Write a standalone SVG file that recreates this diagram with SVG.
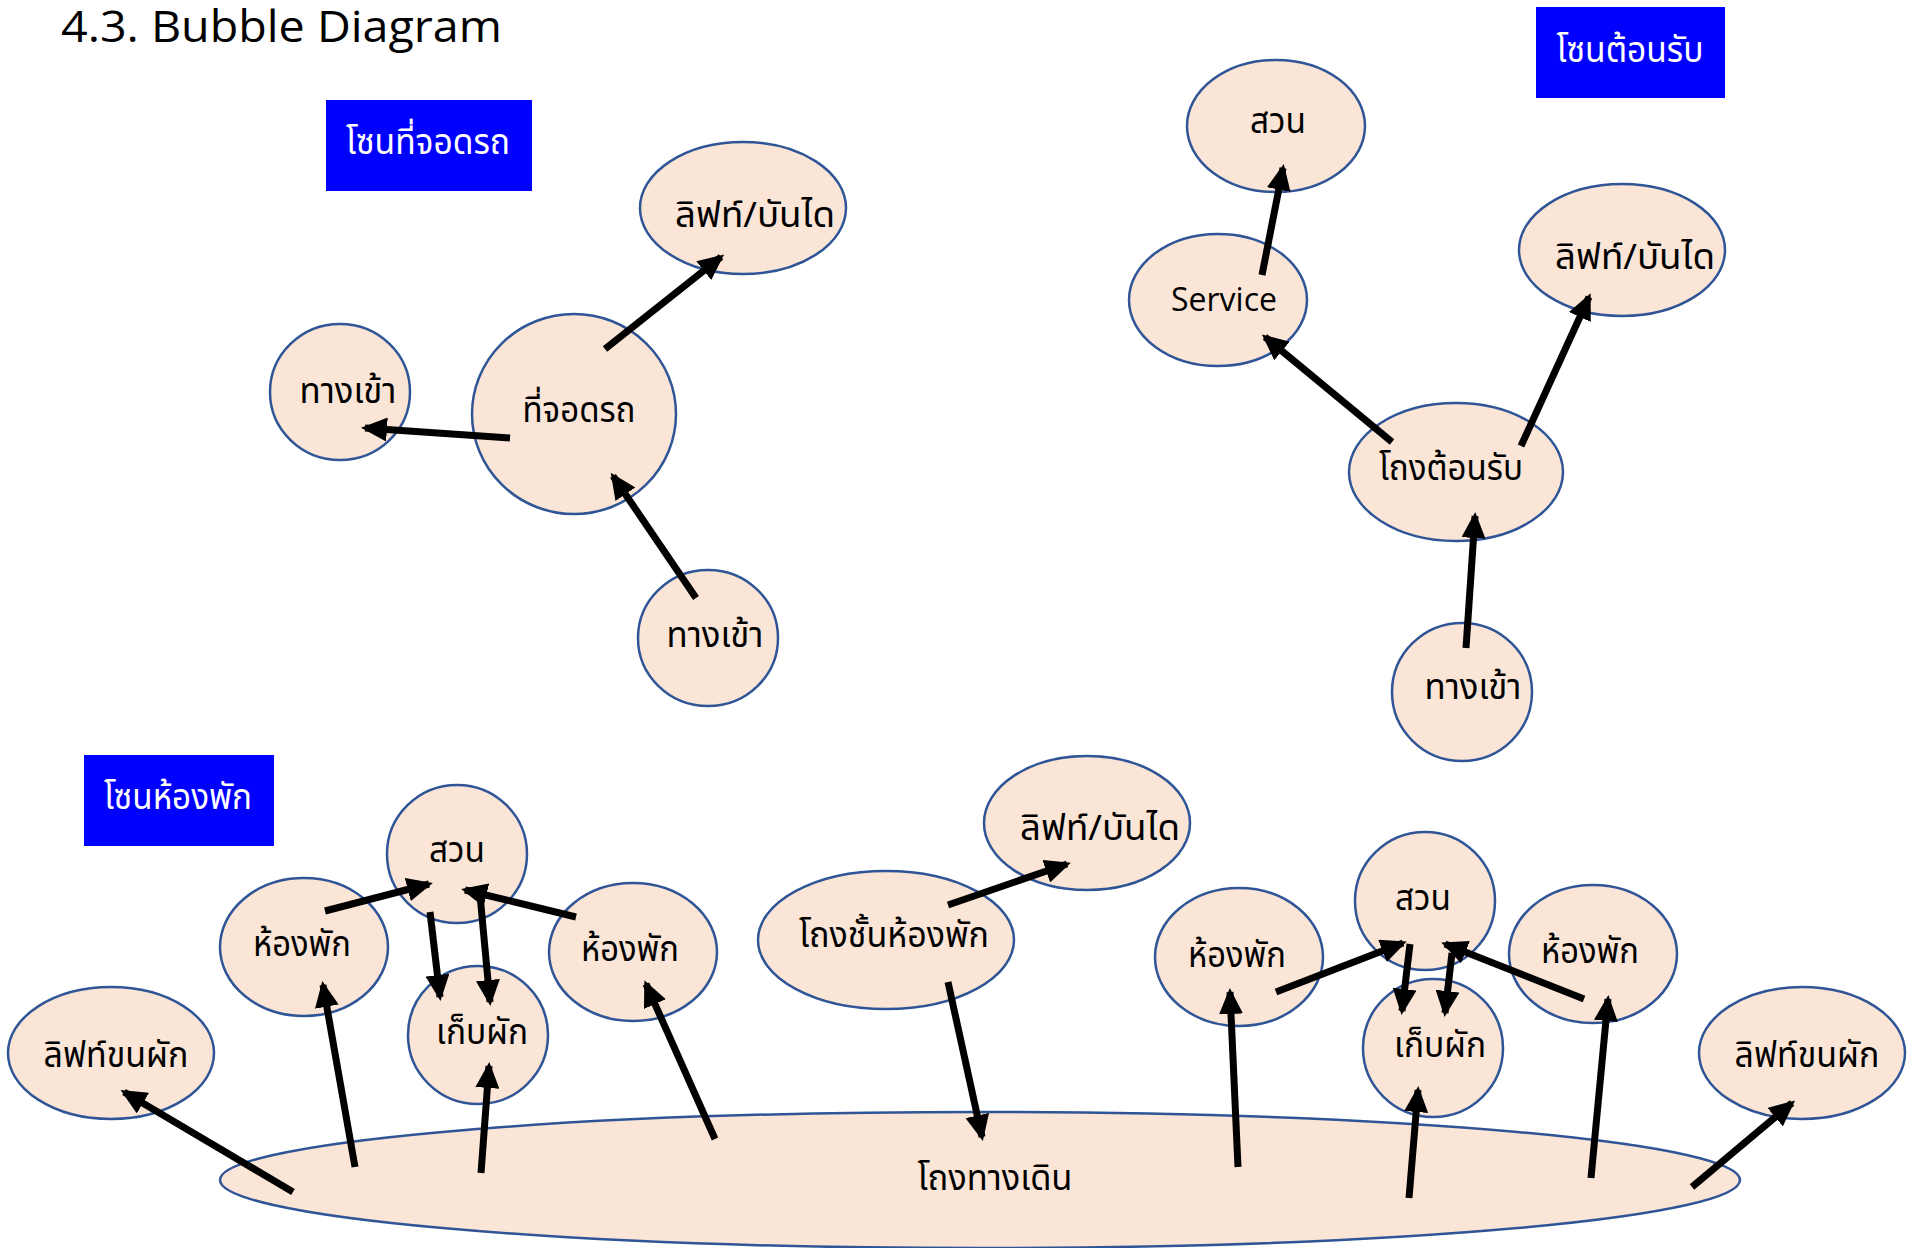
<svg xmlns="http://www.w3.org/2000/svg" width="1910" height="1248" viewBox="0 0 1910 1248">
<style>
.b{fill:#FBE5D6;stroke:#2F5597;stroke-width:2.5}
.z{fill:#0000FF}
.t{font-family:"Noto Sans Thai","Noto Sans Thai Looped","Garuda","Loma","Noto Sans",sans-serif;font-size:35px;fill:#000;text-anchor:middle}
.zt{font-family:"Noto Sans Thai","Noto Sans Thai Looped","Garuda","Loma","Noto Sans",sans-serif;font-size:35px;fill:#fff;text-anchor:middle}
.e{font-family:"Open Sans","Noto Sans",sans-serif;fill:#000}
.c line{stroke:#000;stroke-width:7;marker-end:url(#ah)}
</style>
<defs>
<marker id="ah" markerUnits="userSpaceOnUse" markerWidth="26" markerHeight="24" refX="22" refY="12" orient="auto">
<path d="M0,0 L26,12 L0,24 Z" fill="#000"/>
</marker>
</defs>
<rect width="1910" height="1248" fill="#fff"/>
<text class="e" x="61" y="42" font-size="44" font-weight="500" textLength="441" lengthAdjust="spacingAndGlyphs">4.3. Bubble Diagram</text>

<g id="zone-parking"><rect class="z" x="326" y="100" width="206" height="91"/><text class="zt" x="428" y="154" textLength="164" lengthAdjust="spacingAndGlyphs">โซนที่จอดรถ</text></g>
<g id="p-lift"><ellipse class="b" cx="743" cy="208" rx="103" ry="66"/><text class="t" x="755" y="227" textLength="160" lengthAdjust="spacingAndGlyphs">ลิฟท์/บันได</text></g>
<g id="p-entry1"><ellipse class="b" cx="340" cy="392" rx="70" ry="68"/><text class="t" x="348" y="403" textLength="97" lengthAdjust="spacingAndGlyphs">ทางเข้า</text></g>
<g id="p-parking"><ellipse class="b" cx="574" cy="414" rx="102" ry="100"/><text class="t" x="579" y="422" textLength="113" lengthAdjust="spacingAndGlyphs">ที่จอดรถ</text></g>
<g id="p-entry2"><ellipse class="b" cx="708" cy="638" rx="70" ry="68"/><text class="t" x="715" y="647" textLength="97" lengthAdjust="spacingAndGlyphs">ทางเข้า</text></g>

<g id="zone-reception"><rect class="z" x="1536" y="7" width="189" height="91"/><text class="zt" x="1630" y="62" textLength="147" lengthAdjust="spacingAndGlyphs">โซนต้อนรับ</text></g>
<g id="r-garden"><ellipse class="b" cx="1276" cy="126" rx="89" ry="66"/><text class="t" x="1278" y="133" textLength="56" lengthAdjust="spacingAndGlyphs">สวน</text></g>
<g id="r-service"><ellipse class="b" cx="1218" cy="300" rx="89" ry="66"/><text class="e" x="1224" y="311" font-size="32" text-anchor="middle">Service</text></g>
<g id="r-lift"><ellipse class="b" cx="1622" cy="250" rx="103" ry="66"/><text class="t" x="1635" y="269" textLength="160" lengthAdjust="spacingAndGlyphs">ลิฟท์/บันได</text></g>
<g id="r-lobby"><ellipse class="b" cx="1456" cy="472" rx="107" ry="69"/><text class="t" x="1451" y="480" textLength="144" lengthAdjust="spacingAndGlyphs">โถงต้อนรับ</text></g>
<g id="r-entry"><ellipse class="b" cx="1462" cy="692" rx="70" ry="69"/><text class="t" x="1473" y="699" textLength="97" lengthAdjust="spacingAndGlyphs">ทางเข้า</text></g>

<g id="zone-rooms"><rect class="z" x="84" y="755" width="190" height="91"/><text class="zt" x="178" y="809" textLength="148" lengthAdjust="spacingAndGlyphs">โซนห้องพัก</text></g>
<g id="corridor"><ellipse class="b" cx="980" cy="1180" rx="760" ry="68"/><text class="t" x="995" y="1190" textLength="155" lengthAdjust="spacingAndGlyphs">โถงทางเดิน</text></g>
<g id="l-garden"><ellipse class="b" cx="457" cy="854" rx="70" ry="69"/><text class="t" x="457" y="862" textLength="56" lengthAdjust="spacingAndGlyphs">สวน</text></g>
<g id="l-room1"><ellipse class="b" cx="304" cy="947" rx="84" ry="69"/><text class="t" x="302" y="956" textLength="98" lengthAdjust="spacingAndGlyphs">ห้องพัก</text></g>
<g id="l-veg"><ellipse class="b" cx="478" cy="1035" rx="70" ry="69"/><text class="t" x="482" y="1044" textLength="92" lengthAdjust="spacingAndGlyphs">เก็บผัก</text></g>
<g id="l-room2"><ellipse class="b" cx="633" cy="952" rx="84" ry="69"/><text class="t" x="630" y="961" textLength="98" lengthAdjust="spacingAndGlyphs">ห้องพัก</text></g>
<g id="l-veglift"><ellipse class="b" cx="111" cy="1053" rx="103" ry="66"/><text class="t" x="116" y="1067" textLength="145" lengthAdjust="spacingAndGlyphs">ลิฟท์ขนผัก</text></g>
<g id="floor-lobby"><ellipse class="b" cx="886" cy="940" rx="128" ry="69"/><text class="t" x="894" y="947" textLength="190" lengthAdjust="spacingAndGlyphs">โถงชั้นห้องพัก</text></g>
<g id="m-lift"><ellipse class="b" cx="1087" cy="823" rx="103" ry="67"/><text class="t" x="1100" y="840" textLength="160" lengthAdjust="spacingAndGlyphs">ลิฟท์/บันได</text></g>
<g id="r-room1"><ellipse class="b" cx="1239" cy="957" rx="84" ry="69"/><text class="t" x="1237" y="967" textLength="98" lengthAdjust="spacingAndGlyphs">ห้องพัก</text></g>
<g id="r-garden2"><ellipse class="b" cx="1425" cy="901" rx="70" ry="69"/><text class="t" x="1423" y="910" textLength="56" lengthAdjust="spacingAndGlyphs">สวน</text></g>
<g id="r-veg"><ellipse class="b" cx="1433" cy="1048" rx="70" ry="69"/><text class="t" x="1440" y="1057" textLength="92" lengthAdjust="spacingAndGlyphs">เก็บผัก</text></g>
<g id="r-room2"><ellipse class="b" cx="1593" cy="954" rx="84" ry="69"/><text class="t" x="1590" y="963" textLength="98" lengthAdjust="spacingAndGlyphs">ห้องพัก</text></g>
<g id="r-veglift"><ellipse class="b" cx="1802" cy="1053" rx="103" ry="66"/><text class="t" x="1807" y="1067" textLength="145" lengthAdjust="spacingAndGlyphs">ลิฟท์ขนผัก</text></g>

<g id="connectors" class="c">
<line x1="605" y1="349" x2="721" y2="257"/>
<line x1="510" y1="438" x2="365" y2="428"/>
<line x1="696" y1="598" x2="613" y2="476"/>
<line x1="1262" y1="275" x2="1283" y2="168"/>
<line x1="1392" y1="442" x2="1265" y2="337"/>
<line x1="1521" y1="446" x2="1589" y2="297"/>
<line x1="1466" y1="648" x2="1475" y2="516"/>
<line x1="325" y1="911" x2="429" y2="884"/>
<line x1="430" y1="912" x2="440" y2="997"/>
<line x1="480" y1="895" x2="490" y2="1002"/>
<line x1="576" y1="917" x2="465" y2="890"/>
<line x1="293" y1="1192" x2="124" y2="1092"/>
<line x1="355" y1="1167" x2="323" y2="985"/>
<line x1="481" y1="1173" x2="489" y2="1066"/>
<line x1="715" y1="1139" x2="646" y2="984"/>
<line x1="948" y1="982" x2="982" y2="1137"/>
<line x1="948" y1="905" x2="1067" y2="864"/>
<line x1="1276" y1="992" x2="1403" y2="943"/>
<line x1="1410" y1="944" x2="1402" y2="1011"/>
<line x1="1452" y1="953" x2="1445" y2="1013"/>
<line x1="1584" y1="999" x2="1445" y2="944"/>
<line x1="1238" y1="1167" x2="1230" y2="992"/>
<line x1="1409" y1="1198" x2="1418" y2="1090"/>
<line x1="1591" y1="1178" x2="1608" y2="999"/>
<line x1="1692" y1="1187" x2="1792" y2="1103"/>
</g>
</svg>
